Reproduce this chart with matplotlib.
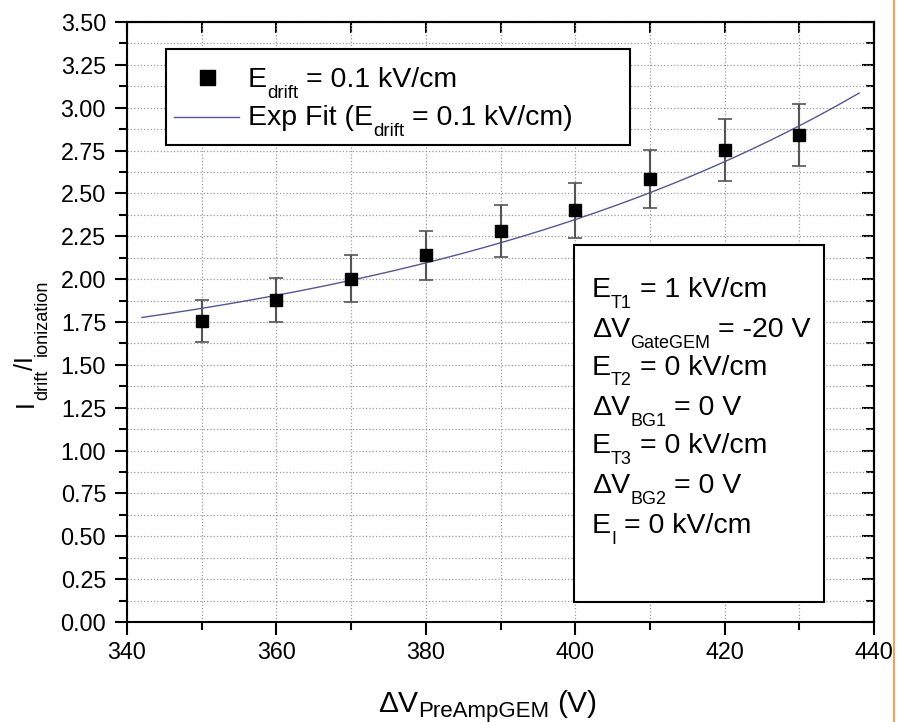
import numpy as np
import matplotlib
matplotlib.use("Agg")
import matplotlib.pyplot as plt
from matplotlib.lines import Line2D
from matplotlib.patches import Rectangle
from matplotlib.ticker import MultipleLocator, FormatStrFormatter
from matplotlib.font_manager import FontProperties

FAMILY = ['Liberation Sans', 'DejaVu Sans']
plt.rcParams['font.family'] = FAMILY

# ---------------- data ----------------
voltage = [350, 360, 370, 380, 390, 400, 410, 420, 430]
ratio = [1.755, 1.878, 2.003, 2.140, 2.280, 2.402, 2.583, 2.752, 2.842]
ratio_err = [0.122, 0.130, 0.137, 0.143, 0.152, 0.160, 0.168, 0.180, 0.180]

# Exponential fit parameters: y = y0 + A*exp((x - 340)/t)
fit_y0 = 1.343
fit_A = 0.421
fit_t = 69.0
fit_xmin, fit_xmax = 342, 438

legend_rows = [
    [("E", "m"), ("drift", "s"), (" = 0.1 kV/cm", "m")],
    [("Exp Fit (E", "m"), ("drift", "s"), (" = 0.1 kV/cm)", "m")],
]
info_rows = [
    [("E", "m"), ("T1", "s"), (" = 1 kV/cm", "m")],
    [("ΔV", "m"), ("GateGEM", "s"), (" = -20 V", "m")],
    [("E", "m"), ("T2", "s"), (" = 0 kV/cm", "m")],
    [("ΔV", "m"), ("BG1", "s"), (" = 0 V", "m")],
    [("E", "m"), ("T3", "s"), (" = 0 kV/cm", "m")],
    [("ΔV", "m"), ("BG2", "s"), (" = 0 V", "m")],
    [("E", "m"), ("I", "s"), (" = 0 kV/cm", "m")],
]
xlabel_parts = [("ΔV", "m"), ("PreAmpGEM", "s"), (" (V)", "m")]
ylabel_parts = [("I", "m"), ("drift", "s"), ("/I", "m"), ("ionization", "s")]

# ---------------- figure ----------------
W, H = 897, 722
fig = plt.figure(figsize=(W/100, H/100), dpi=100)
L, R, T, B = 127, 874, 22, 622
ax = fig.add_axes([L/W, 1-B/H, (R-L)/W, (B-T)/H])
renderer = fig.canvas.get_renderer()


def seg_width(s, fs):
    prop = FontProperties(family=FAMILY, size=fs)
    w1, _, _ = renderer.get_text_width_height_descent('|' + s + '|', prop, ismath=False)
    w0, _, _ = renderer.get_text_width_height_descent('||', prop, ismath=False)
    return w1 - w0


def rich_text(x0, y0, parts, main_fs, sub_fs, drop, rotation=0, zorder=10):
    """x0, y0 in pixels from top-left of figure; drop in pixels."""
    adv = 0.0
    for s, kind in parts:
        fs = main_fs if kind == "m" else sub_fs
        d = 0 if kind == "m" else drop
        stripped = s.lstrip(' ')
        lead = seg_width(' ' * (len(s) - len(stripped)), fs) if stripped != s else 0.0
        a = adv + lead
        if rotation == 0:
            x, y = x0 + a, y0 + d
        else:
            x, y = x0 + d, y0 - a
        fig.text(x/W, 1 - y/H, stripped, fontsize=fs, rotation=rotation,
                 rotation_mode='anchor', ha='left', va='baseline', zorder=zorder)
        adv += seg_width(s, fs)


ax.set_xlim(340, 440)
ax.set_ylim(0, 3.5)
ax.xaxis.set_major_locator(MultipleLocator(20))
ax.xaxis.set_minor_locator(MultipleLocator(10))
ax.yaxis.set_major_locator(MultipleLocator(0.25))
ax.yaxis.set_minor_locator(MultipleLocator(0.125))
ax.yaxis.set_major_formatter(FormatStrFormatter('%.2f'))

ax.grid(True, which='both', linestyle=':', color='#9a9a9a', linewidth=0.9)
ax.set_axisbelow(True)
for s in ax.spines.values():
    s.set_linewidth(1.5)

ax.tick_params(axis='both', which='major', labelsize=16.8, width=1.5, length=9)
ax.tick_params(axis='x', which='major', pad=4.5)
ax.tick_params(axis='y', which='major', pad=6)
ax.tick_params(axis='both', which='minor', width=1.5, length=5.5)
ax.tick_params(axis='both', which='both', direction='out', top=False, right=False)

axt = ax.secondary_xaxis('top')
axt.xaxis.set_major_locator(MultipleLocator(20))
axt.xaxis.set_minor_locator(MultipleLocator(10))
axt.tick_params(which='both', direction='in', length=8, width=1.5, labeltop=False)
axt.spines['top'].set_linewidth(1.5)
axr = ax.secondary_yaxis('right')
axr.yaxis.set_major_locator(MultipleLocator(0.25))
axr.yaxis.set_minor_locator(MultipleLocator(0.125))
axr.tick_params(which='major', direction='in', length=9, width=1.5, labelright=False)
axr.tick_params(which='minor', direction='in', length=5.5, width=1.5, labelright=False)
axr.spines['right'].set_linewidth(1.5)

FIT_COLOR = '#55559a'
xf = np.linspace(fit_xmin, fit_xmax, 300)
yf = fit_y0 + fit_A*np.exp((xf - 340)/fit_t)
ax.plot(xf, yf, color=FIT_COLOR, lw=1.0, zorder=3)

ax.errorbar(voltage, ratio, yerr=ratio_err, fmt='s', color='black', ms=8.5,
            ecolor='#555555', elinewidth=1.5, capsize=5, capthick=1.2, zorder=4)


def ax_xy(px, py):
    return (px - L)/(R - L), (B - py)/(B - T)


# legend box
lx0, ly0 = ax_xy(166, 145)
lx1, ly1 = ax_xy(630, 49)
ax.add_patch(Rectangle((lx0, ly0), lx1-lx0, ly1-ly0, transform=ax.transAxes,
                       facecolor='white', edgecolor='black', lw=1.5, zorder=6))
mx, my = ax_xy(206.5, 77)
ax.plot([mx], [my], marker='s', color='black', ms=10.8, ls='none',
        transform=ax.transAxes, zorder=7, clip_on=False)
a0, ay = ax_xy(174, 116.5)
a1, _ = ax_xy(239, 116.5)
ax.plot([a0, a1], [ay, ay], color=FIT_COLOR, lw=1.0, transform=ax.transAxes,
        zorder=7, clip_on=False)
for parts, base in zip(legend_rows, [86.7, 125.0]):
    rich_text(248, base, parts, 20.5, 13.5, 11.5)

# info box
bx0, by0 = ax_xy(574, 602)
bx1, by1 = ax_xy(824, 245)
ax.add_patch(Rectangle((bx0, by0), bx1-bx0, by1-by0, transform=ax.transAxes,
                       facecolor='white', edgecolor='black', lw=1.5, zorder=6))
for parts, base in zip(info_rows, [297, 337, 375, 415, 453, 493, 533]):
    rich_text(592, base, parts, 20.5, 13, 10.5)

# axis labels
rich_text(378, 712, xlabel_parts, 21.6, 16, 4.5)
rich_text(33, 407, ylabel_parts, 18, 13, 14, rotation=90)

fig.add_artist(Line2D([893.5/W, 893.5/W], [0, 1], transform=fig.transFigure,
                      color='#F5A25C', lw=1.5))

fig.savefig('out.png', dpi=100)
